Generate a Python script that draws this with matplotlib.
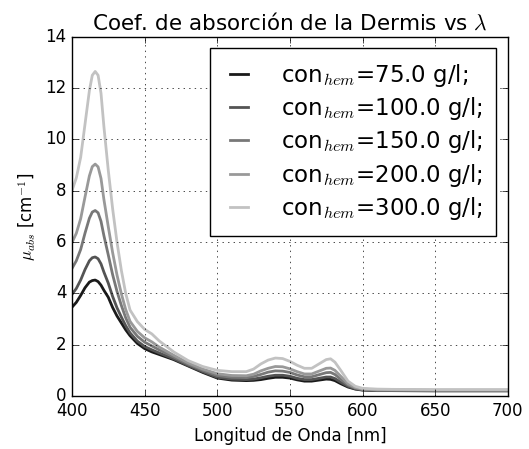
import numpy as np
import matplotlib
matplotlib.use("Agg")
import matplotlib.pyplot as plt

plt.style.use("classic")
plt.rcParams["figure.facecolor"] = "white"
plt.rcParams["savefig.facecolor"] = "white"

# wavelength (nm)
wl = [400, 403, 406, 409, 412, 414, 416, 418, 420, 422, 425, 428, 431, 434, 437,
      440, 445, 450, 455, 460, 470, 480, 490, 500, 510, 520, 525, 530, 535, 540,
      545, 550, 555, 560, 565, 570, 575, 578, 581, 585, 590, 595, 600, 610, 620,
      650, 700]

# absorption coefficient (1/cm) for each hemoglobin concentration
mu_75 = [3.46, 3.65, 3.92, 4.22, 4.44, 4.50, 4.52, 4.46, 4.32, 4.12, 3.85, 3.45, 3.12, 2.85, 2.58,
         2.35, 2.05, 1.85, 1.72, 1.62, 1.42, 1.17, 0.92, 0.70, 0.62, 0.60, 0.61, 0.64, 0.69, 0.73,
         0.73, 0.70, 0.63, 0.58, 0.58, 0.62, 0.66, 0.65, 0.60, 0.48, 0.35, 0.27, 0.23, 0.21, 0.21,
         0.20, 0.20]
mu_100 = [3.96, 4.19, 4.52, 4.93, 5.27, 5.39, 5.42, 5.35, 5.15, 4.83, 4.40, 3.88, 3.44, 3.08, 2.74,
          2.46, 2.14, 1.93, 1.80, 1.68, 1.45, 1.19, 0.95, 0.73, 0.66, 0.64, 0.66, 0.71, 0.77, 0.81,
          0.81, 0.77, 0.69, 0.64, 0.64, 0.69, 0.74, 0.74, 0.68, 0.54, 0.38, 0.28, 0.24, 0.22, 0.22,
          0.21, 0.21]
mu_150 = [4.97, 5.27, 5.71, 6.35, 6.93, 7.17, 7.23, 7.14, 6.81, 6.25, 5.50, 4.73, 4.08, 3.53, 3.05,
          2.68, 2.33, 2.10, 1.95, 1.80, 1.52, 1.24, 1.00, 0.80, 0.73, 0.72, 0.76, 0.84, 0.93, 0.98,
          0.97, 0.92, 0.82, 0.75, 0.75, 0.83, 0.91, 0.92, 0.84, 0.65, 0.43, 0.31, 0.25, 0.23, 0.23,
          0.22, 0.22]
mu_200 = [5.98, 6.34, 6.91, 7.76, 8.58, 8.94, 9.04, 8.93, 8.48, 7.66, 6.60, 5.59, 4.72, 3.99, 3.37,
          2.91, 2.52, 2.27, 2.11, 1.91, 1.59, 1.29, 1.05, 0.87, 0.80, 0.79, 0.85, 0.98, 1.08, 1.15,
          1.14, 1.06, 0.95, 0.86, 0.86, 0.97, 1.08, 1.09, 1.00, 0.77, 0.48, 0.33, 0.27, 0.24, 0.24,
          0.23, 0.23]
mu_300 = [8.0, 8.5, 9.3, 10.6, 11.9, 12.5, 12.65, 12.5, 11.8, 10.5, 8.8, 7.3, 6.0, 4.9, 4.0,
          3.35, 2.9, 2.6, 2.42, 2.15, 1.72, 1.38, 1.15, 1.0, 0.95, 0.95, 1.05, 1.25, 1.40, 1.48,
          1.46, 1.35, 1.20, 1.08, 1.08, 1.25, 1.42, 1.45, 1.32, 1.00, 0.58, 0.38, 0.30, 0.27, 0.26,
          0.25, 0.25]

series = [mu_75, mu_100, mu_150, mu_200, mu_300]
conc = [75.0, 100.0, 150.0, 200.0, 300.0]
grays = ["0.1", "0.33", "0.47", "0.6", "0.76"]

fig = plt.figure(figsize=(5.29, 4.49), dpi=100)
ax = fig.add_subplot(111)
fig.subplots_adjust(left=0.136, right=0.960, bottom=0.118, top=0.918)

for mu, c, g in zip(series, conc, grays):
    ax.plot(wl, mu, color=g, lw=2, label=r"con$_{hem}$=%.1f g/l;" % c)

ax.set_xlim(400, 700)
ax.set_ylim(0, 14)
ax.grid(True)
ax.tick_params(labelsize=12)
ax.set_xlabel("Longitud de Onda [nm]", fontsize=12)
ax.set_ylabel(r"$\mu_{abs}$ [cm$^{-1}$]", fontsize=12)
ax.set_title(r"Coef. de absorción de la Dermis vs $\lambda$", fontsize=15.5)
ax.legend(loc="upper right", fontsize=16.5, handlelength=1.35, handletextpad=1.15,
          labelspacing=0.27, borderpad=0.6, borderaxespad=0.5)

fig.savefig("out.png", dpi=100)
